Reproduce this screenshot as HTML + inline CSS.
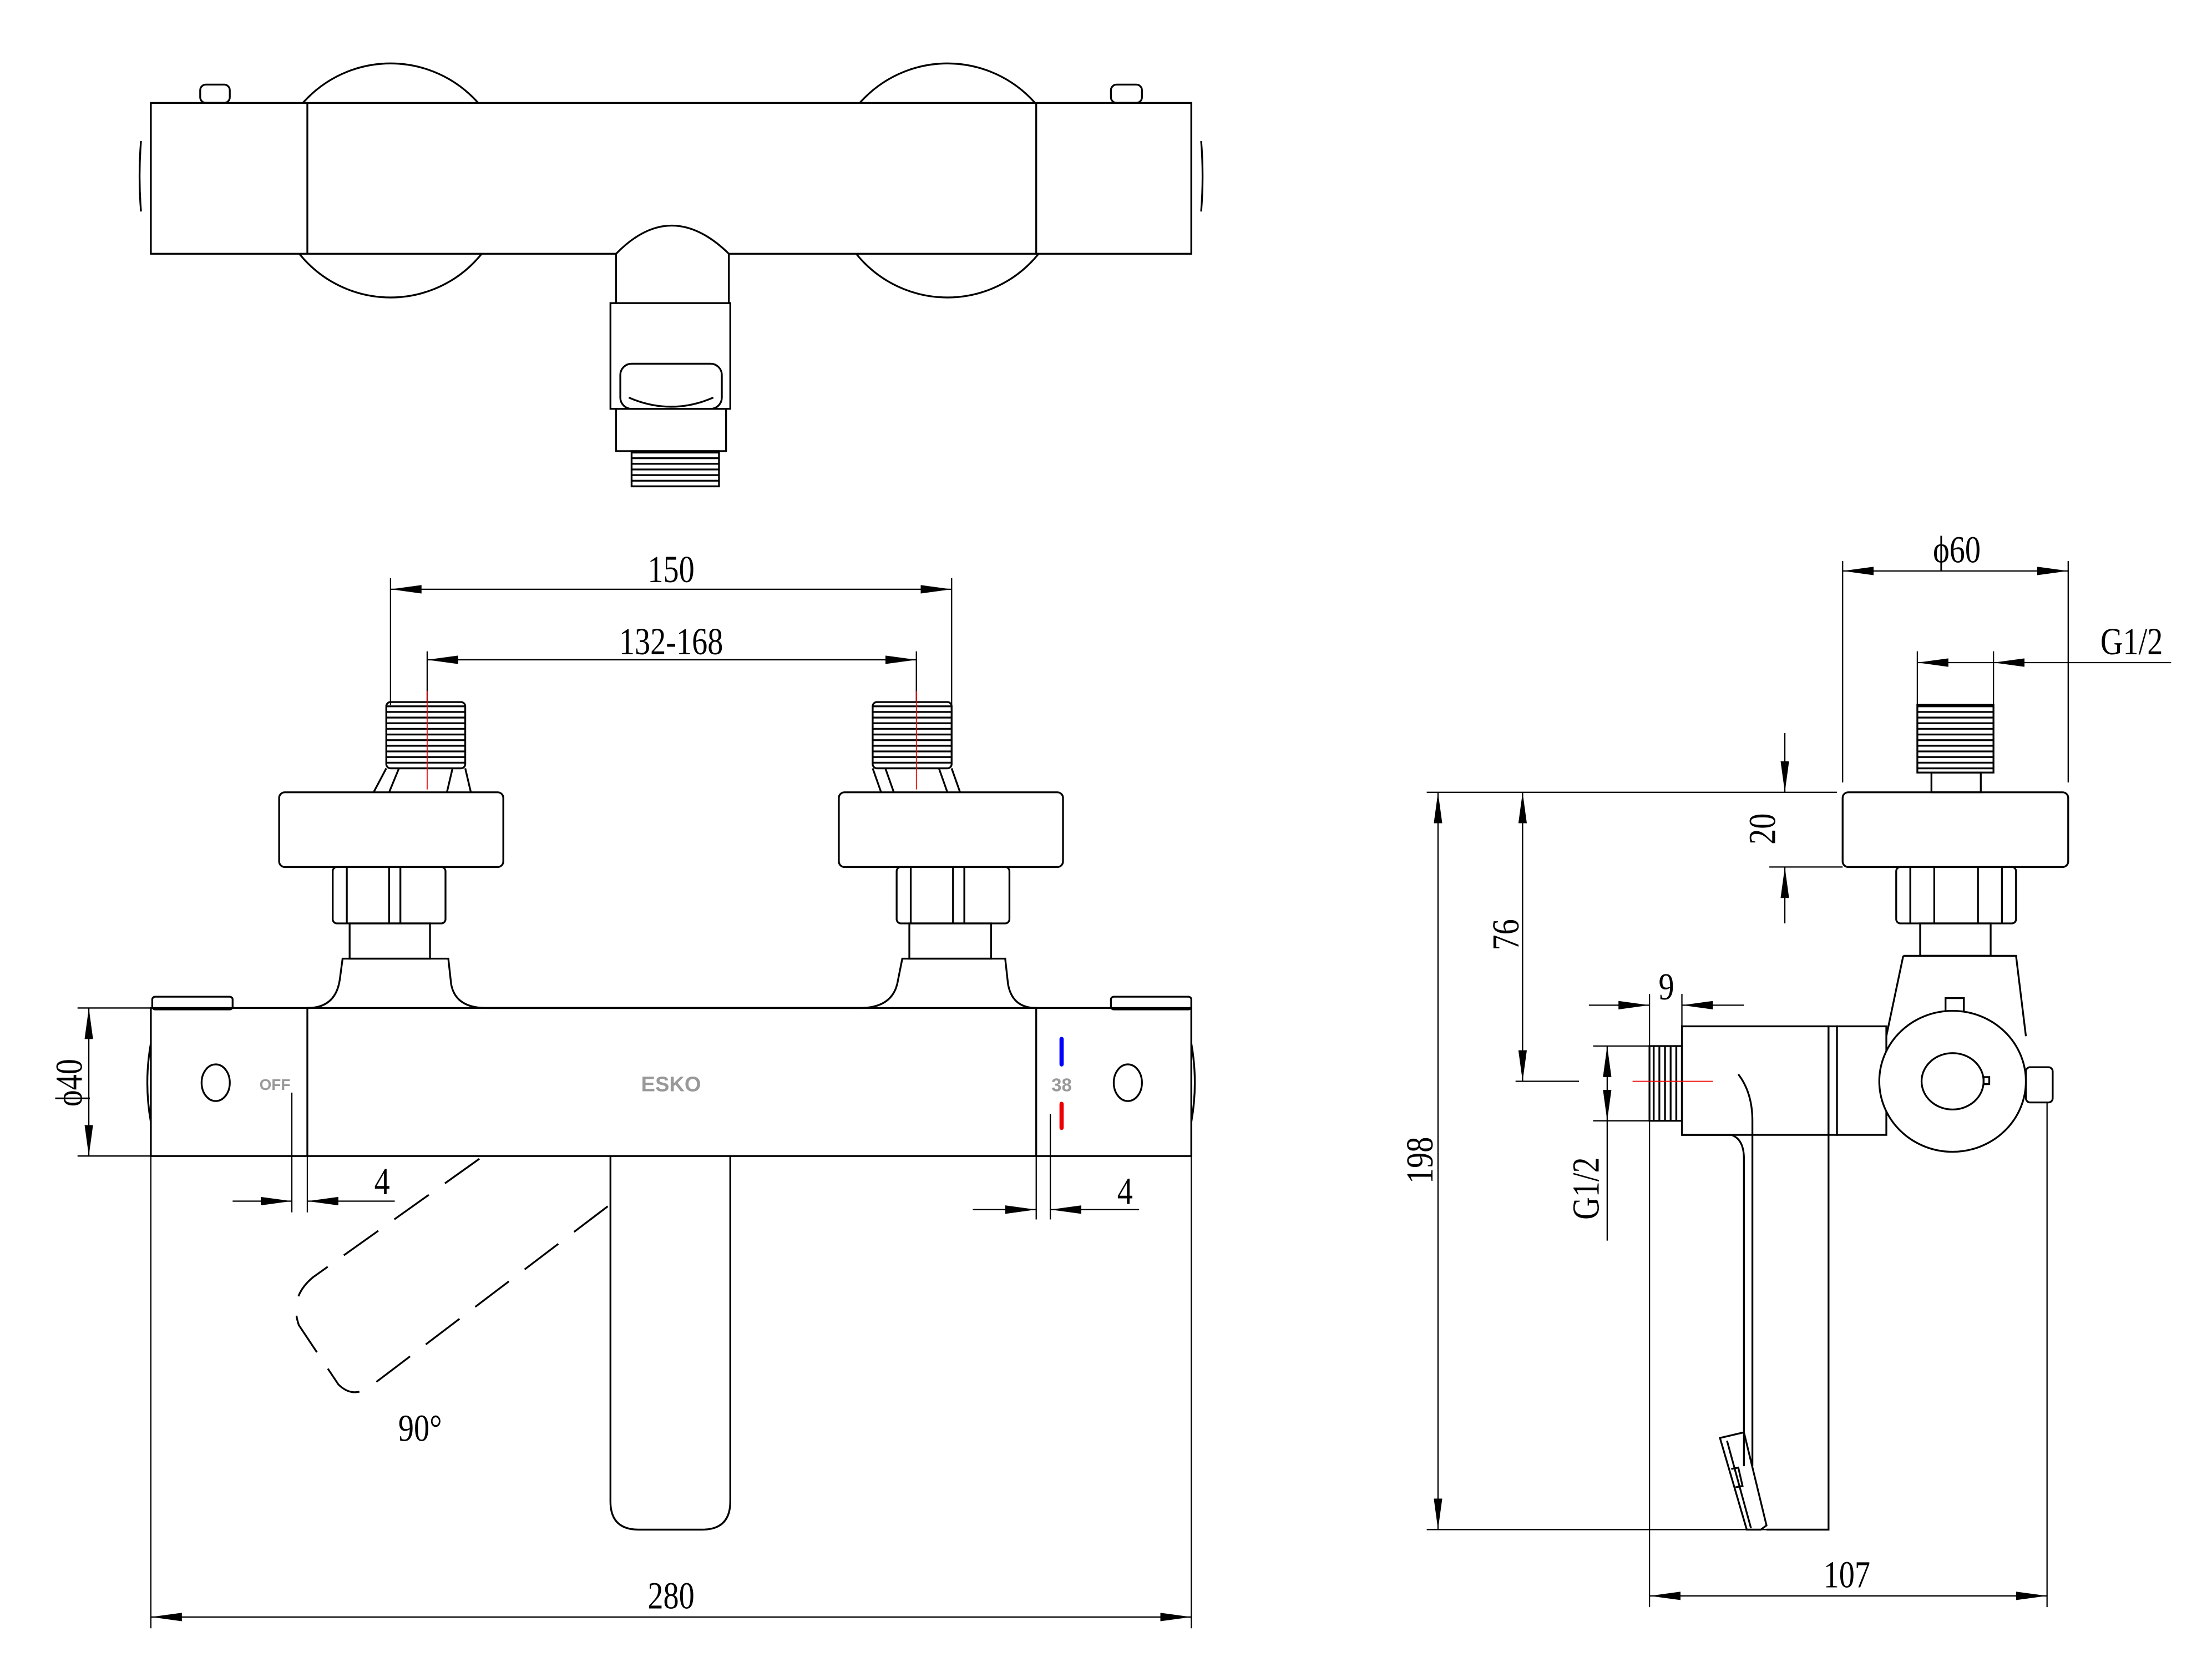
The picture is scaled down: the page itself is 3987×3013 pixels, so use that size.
<!DOCTYPE html>
<html><head><meta charset="utf-8"><style>
html,body{margin:0;padding:0;background:#fff}
svg{display:block}
text{font-family:"Liberation Serif",serif;fill:#000}
</style></head><body>
<svg width="3987" height="3013" viewBox="0 0 1569 1186" preserveAspectRatio="none" xmlns="http://www.w3.org/2000/svg">
<defs>
<marker id="b" viewBox="0 0 22 6" refX="22" refY="3" markerWidth="22" markerHeight="6" markerUnits="userSpaceOnUse" orient="auto-start-reverse"><path d="M0,0L22,3L0,6z" fill="#000"/></marker>
<pattern id="th" width="4" height="4" patternUnits="userSpaceOnUse"><rect width="4" height="4" fill="#fff"/><line x1="0" y1="1" x2="4" y2="1" stroke="#000" stroke-width="1.3"/></pattern>
<pattern id="tv" width="4" height="4" patternUnits="userSpaceOnUse"><rect width="4" height="4" fill="#fff"/><line x1="1" y1="0" x2="1" y2="4" stroke="#000" stroke-width="1.3"/></pattern>
</defs>
<g fill="none" stroke="#000" stroke-width="1.3">
<!-- TOP VIEW -->
<circle cx="277" cy="128" r="83" fill="#fff"/>
<circle cx="672" cy="128" r="83" fill="#fff"/>
<path d="M100,100 Q98,125 100,150 M852,100 Q854,125 852,150"/>
<rect x="142" y="60" width="21" height="13" rx="4" fill="#fff"/>
<rect x="788" y="60" width="22" height="13" rx="4" fill="#fff"/>
<rect x="107" y="73" width="738" height="107" fill="#fff"/>
<line x1="218" y1="73" x2="218" y2="180"/>
<line x1="735" y1="73" x2="735" y2="180"/>
<path d="M437,215 L437,180 Q476,140 517,180 L517,215" fill="#fff"/>
<rect x="433" y="215" width="85" height="75" fill="#fff"/>
<rect x="440" y="258" width="72" height="32" rx="8"/>
<path d="M446,282 Q476,295 506,282"/>
<rect x="437" y="290" width="78" height="30"/>
<rect x="448" y="320" width="62" height="25" fill="url(#th)"/>
<!-- FRONT VIEW -->
<rect x="274" y="498" width="56" height="47" rx="3" fill="url(#th)"/>
<rect x="619" y="498" width="56" height="47" rx="3" fill="url(#th)"/>
<path d="M274,545 L265,562 M283,545 L276,562 M321,545 L317,562 M330,545 L334,562"/>
<path d="M619,545 L625,562 M628,545 L634,562 M666,545 L672,562 M675,545 L681,562"/>
<rect x="198" y="562" width="159" height="53" rx="4"/>
<rect x="595" y="562" width="159" height="53" rx="4"/>
<rect x="236" y="615" width="80" height="40" rx="3"/>
<path d="M246,615 V655 M284,615 V655 M276,615 V655"/>
<rect x="636" y="615" width="80" height="40" rx="3"/>
<path d="M646,615 V655 M684,615 V655 M676,615 V655"/>
<rect x="248" y="655" width="57" height="25"/>
<rect x="645" y="655" width="58" height="25"/>
<path d="M218,715 Q238,715 241,695 L243,680 L318,680 L320,698 Q323,715 345,715 L610,715 Q634,715 637,695 L640,680 L713,680 L715,698 Q718,715 735,715"/>
<rect x="107" y="715" width="738" height="105"/>
<line x1="218" y1="715" x2="218" y2="820"/>
<line x1="735" y1="715" x2="735" y2="820"/>
<rect x="108" y="707" width="57" height="9" rx="2"/>
<rect x="788" y="707" width="57" height="9" rx="2"/>
<path d="M107,740 Q102,768 107,796 M845,740 Q850,768 845,796"/>
<ellipse cx="153" cy="768" rx="10" ry="13"/>
<ellipse cx="800" cy="768" rx="10" ry="13"/>
<path d="M433,820 V1065 Q433,1085 453,1085 H498 Q518,1085 518,1065 V820"/>
<path d="M340,822 L222,906 Q205,920 212,940 L240,982 Q250,992 262,984 L432,855" stroke-dasharray="30,14"/>
<!-- SIDE VIEW -->
<rect x="1360" y="500" width="54" height="48" fill="url(#th)"/>
<rect x="1370" y="548" width="35" height="14"/>
<rect x="1307" y="562" width="160" height="53" rx="4"/>
<rect x="1345" y="615" width="85" height="40" rx="3"/>
<path d="M1355,615 V655 M1372,615 V655 M1403,615 V655 M1420,615 V655"/>
<rect x="1362" y="655" width="50" height="23"/>
<path d="M1350,678 L1338,735 M1350,678 H1430 L1437,735"/>
<rect x="1193" y="728" width="104" height="77" fill="#fff"/>
<rect x="1297" y="728" width="6" height="77"/>
<rect x="1303" y="728" width="35" height="77" fill="#fff"/>
<path d="M1297,805 V1085 H1253"/>
<path d="M1193,805 H1228 Q1237,808 1237,822 V1040"/>
<path d="M1233,762 Q1243,775 1243,795 V1040"/>
<path d="M1220,1020 L1237,1016 L1253,1082 L1249,1085 L1239,1085 Z"/>
<path d="M1225,1022 L1242,1084 M1228,1042 L1233,1041 L1236,1054 L1231,1055"/>
<rect x="1170" y="742" width="23" height="53" fill="url(#tv)"/>
<ellipse cx="1385" cy="767" rx="52" ry="50" fill="#fff"/>
<ellipse cx="1385" cy="767" rx="22" ry="20"/>
<path d="M1380,718 V708 H1393 V718"/>
<rect x="1407" y="764" width="4" height="5"/>
<rect x="1437" y="757" width="19" height="25" rx="3"/>
<!-- DIMENSIONS (thin) -->
<g stroke-width="0.9">
<path d="M277,410 V500 M675,410 V500 M303,462 V498 M650,462 V498"/>
<line x1="277" y1="418" x2="675" y2="418" marker-start="url(#b)" marker-end="url(#b)"/>
<line x1="303" y1="468" x2="650" y2="468" marker-start="url(#b)" marker-end="url(#b)"/>
<path d="M55,715 H107 M55,820 H107"/>
<line x1="63" y1="715" x2="63" y2="820" marker-start="url(#b)" marker-end="url(#b)"/>
<path d="M207,775 V860 M218,820 V860 M735,820 V865 M745,790 V865"/>
<line x1="165" y1="852" x2="207" y2="852" marker-end="url(#b)"/>
<line x1="280" y1="852" x2="218" y2="852" marker-end="url(#b)"/>
<line x1="690" y1="858" x2="735" y2="858" marker-end="url(#b)"/>
<line x1="808" y1="858" x2="745" y2="858" marker-end="url(#b)"/>
<path d="M107,820 V1155 M845,820 V1155"/>
<line x1="107" y1="1147" x2="845" y2="1147" marker-start="url(#b)" marker-end="url(#b)"/>
<path d="M1307,398 V555 M1467,398 V555 M1360,462 V500 M1414,462 V500"/>
<line x1="1307" y1="405" x2="1467" y2="405" marker-start="url(#b)" marker-end="url(#b)"/>
<line x1="1540" y1="470" x2="1414" y2="470" marker-end="url(#b)"/>
<line x1="1414" y1="470" x2="1360" y2="470" marker-end="url(#b)"/>
<line x1="1012" y1="562" x2="1303" y2="562"/>
<line x1="1255" y1="615" x2="1307" y2="615"/>
<line x1="1266" y1="520" x2="1266" y2="562" marker-end="url(#b)"/>
<line x1="1266" y1="655" x2="1266" y2="615" marker-end="url(#b)"/>
<line x1="1075" y1="767" x2="1120" y2="767"/>
<line x1="1080" y1="562" x2="1080" y2="767" marker-start="url(#b)" marker-end="url(#b)"/>
<line x1="1012" y1="1085" x2="1253" y2="1085"/>
<line x1="1020" y1="562" x2="1020" y2="1085" marker-start="url(#b)" marker-end="url(#b)"/>
<path d="M1170,705 V1140 M1193,705 V728 M1130,742 H1170 M1130,795 H1170"/>
<line x1="1127" y1="713" x2="1170" y2="713" marker-end="url(#b)"/>
<line x1="1237" y1="713" x2="1193" y2="713" marker-end="url(#b)"/>
<line x1="1140" y1="742" x2="1140" y2="795" marker-start="url(#b)" marker-end="url(#b)"/>
<line x1="1140" y1="795" x2="1140" y2="880"/>
<line x1="1452" y1="782" x2="1452" y2="1140"/>
<line x1="1170" y1="1132" x2="1452" y2="1132" marker-start="url(#b)" marker-end="url(#b)"/>
</g>
<g stroke="#e00" stroke-width="0.7">
<path d="M303,490 V560 M650,490 V560 M1158,767 H1215"/>
</g>
</g>
<g text-anchor="middle" font-weight="bold">
<text x="195" y="773" font-size="11" style="font-family:'Liberation Sans',sans-serif;fill:#999">OFF</text>
<text x="476" y="774" font-size="15" style="font-family:'Liberation Sans',sans-serif;fill:#999">ESKO</text>
<text x="753" y="774" font-size="13" style="font-family:'Liberation Sans',sans-serif;fill:#999">38</text>
</g>
<line x1="753" y1="737" x2="753" y2="755" stroke="#00f" stroke-width="3" stroke-linecap="round"/>
<line x1="753" y1="783" x2="753" y2="800" stroke="#e00" stroke-width="3" stroke-linecap="round"/>
<g font-size="27" text-anchor="middle">
<text transform="translate(476,413) scale(0.82,1)">150</text>
<text transform="translate(476,464) scale(0.82,1)">132-168</text>
<text transform="translate(58,768) rotate(-90) scale(0.82,1)">ϕ40</text>
<text transform="translate(271,847) scale(0.82,1)">4</text>
<text transform="translate(798,854) scale(0.82,1)">4</text>
<text transform="translate(298,1022) scale(0.82,1)">90°</text>
<text transform="translate(476,1141) scale(0.82,1)">280</text>
<text transform="translate(1388,399) scale(0.82,1)">ϕ60</text>
<text transform="translate(1512,464) scale(0.82,1)">G1/2</text>
<text transform="translate(1259,588) rotate(-90) scale(0.82,1)">20</text>
<text transform="translate(1077,663) rotate(-90) scale(0.82,1)">76</text>
<text transform="translate(1016,823) rotate(-90) scale(0.82,1)">198</text>
<text transform="translate(1182,709) scale(0.82,1)">9</text>
<text transform="translate(1134,843) rotate(-90) scale(0.82,1)">G1/2</text>
<text transform="translate(1310,1126) scale(0.82,1)">107</text>
</g>
</svg>
</body></html>
